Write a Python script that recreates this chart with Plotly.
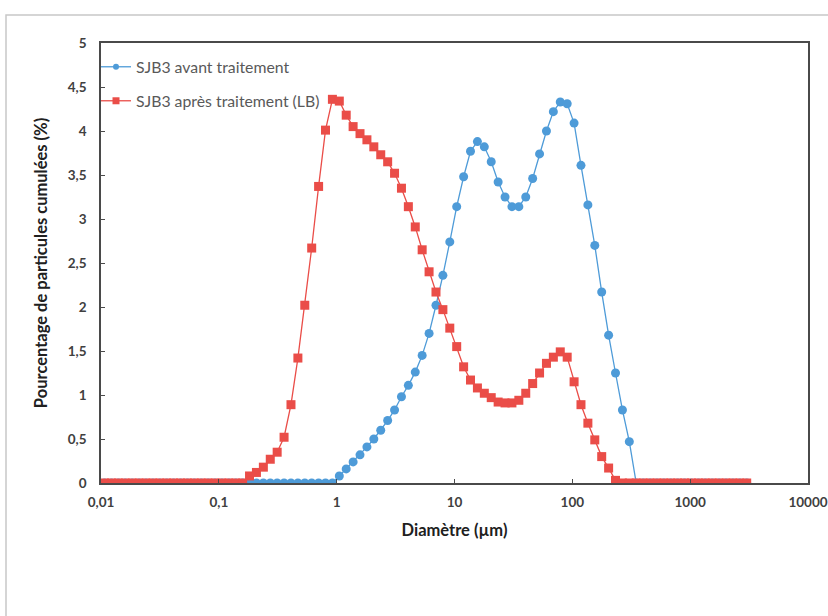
import plotly.graph_objects as go

# Particle diameter classes (µm)
diametres = [
    0.01072, 0.01226, 0.01404, 0.01606, 0.01839, 0.02104, 0.02408, 0.02756, 0.03154, 0.03610,
    0.04130, 0.04727, 0.05410, 0.06191, 0.07086, 0.08110, 0.09281, 0.1062, 0.1216, 0.1391,
    0.1592, 0.1822, 0.2085, 0.2387, 0.2732, 0.3126, 0.3578, 0.4095, 0.4687, 0.5364,
    0.6138, 0.7025, 0.8040, 0.9201, 1.053, 1.205, 1.379, 1.578, 1.806, 2.067,
    2.366, 2.708, 3.099, 3.547, 4.059, 4.645, 5.316, 6.085, 6.964, 7.970,
    9.120, 10.44, 11.95, 13.67, 15.65, 17.91, 20.50, 23.46, 26.85, 30.72,
    35.16, 40.24, 46.06, 52.71, 60.32, 69.02, 79.00, 90.42, 103.5, 118.4,
    135.5, 155.1, 177.5, 203.2, 232.5, 266.1, 304.5, 348.5, 398.9, 456.5,
    522.4, 597.9, 684.3, 783.2, 896.3, 1026, 1174, 1344, 1538, 1760,
    2014, 2305, 2638, 3019,
]

# SJB3 before treatment (%)
avant = [
    0, 0, 0, 0, 0, 0, 0, 0, 0, 0,
    0, 0, 0, 0, 0, 0, 0, 0, 0, 0,
    0, 0, 0, 0, 0, 0, 0, 0, 0, 0,
    0, 0, 0, 0, 0.08, 0.16, 0.24, 0.32, 0.41, 0.50,
    0.60, 0.71, 0.83, 0.98, 1.11, 1.26, 1.45, 1.70, 2.02, 2.36,
    2.74, 3.14, 3.48, 3.77, 3.88, 3.82, 3.65, 3.42, 3.25, 3.14,
    3.14, 3.25, 3.46, 3.74, 4.00, 4.22, 4.33, 4.31, 4.09, 3.61,
    3.16, 2.70, 2.17, 1.68, 1.25, 0.83, 0.47, 0, 0, 0,
    0, 0, 0, 0, 0, 0, 0, 0, 0, 0,
    0, 0, 0, 0,
]

# SJB3 after treatment (LB) (%)
apres = [
    0, 0, 0, 0, 0, 0, 0, 0, 0, 0,
    0, 0, 0, 0, 0, 0, 0, 0, 0, 0,
    0, 0.08, 0.12, 0.18, 0.27, 0.35, 0.52, 0.89, 1.42, 2.02,
    2.67, 3.37, 4.01, 4.36, 4.34, 4.18, 4.05, 3.97, 3.90, 3.82,
    3.73, 3.65, 3.52, 3.35, 3.14, 2.91, 2.65, 2.40, 2.17, 1.97,
    1.76, 1.55, 1.32, 1.17, 1.08, 1.02, 0.97, 0.92, 0.91, 0.91,
    0.94, 1.02, 1.13, 1.25, 1.36, 1.43, 1.49, 1.43, 1.15, 0.89,
    0.68, 0.49, 0.30, 0.17, 0.03, 0, 0, 0, 0, 0,
    0, 0, 0, 0, 0, 0, 0, 0, 0, 0,
    0, 0, 0, 0,
]

series_names = ["SJB3 avant traitement", "SJB3 après traitement (LB)"]

x_tickvals = [0.01, 0.1, 1, 10, 100, 1000, 10000]
x_ticktext = ["0,01", "0,1", "1", "10", "100", "1000", "10000"]
y_tickvals = [0, 0.5, 1, 1.5, 2, 2.5, 3, 3.5, 4, 4.5, 5]
y_ticktext = ["0", "0,5", "1", "1,5", "2", "2,5", "3", "3,5", "4", "4,5", "5"]

BLUE = "#4E9BD8"
RED = "#EA4D48"
AXIS = "#4A4A4A"
FONT = "Lato, 'Open Sans', sans-serif"

fig = go.Figure()

# Data series (markers over a thin connecting line)
fig.add_trace(go.Scatter(
    x=diametres, y=avant, mode="lines+markers", name=series_names[0],
    line=dict(color=BLUE, width=1.3),
    marker=dict(symbol="circle", size=9, color=BLUE),
    showlegend=False,
))
fig.add_trace(go.Scatter(
    x=diametres, y=apres, mode="lines+markers", name=series_names[1],
    line=dict(color=RED, width=1.3),
    marker=dict(symbol="square", size=9, color=RED),
    showlegend=False,
))

# Legend keys with smaller symbols
fig.add_trace(go.Scatter(
    x=[None], y=[None], mode="lines+markers", name=series_names[0],
    line=dict(color=BLUE, width=1.3),
    marker=dict(symbol="circle", size=6, color=BLUE),
    legend="legend",
))
fig.add_trace(go.Scatter(
    x=[None], y=[None], mode="lines+markers", name=series_names[1],
    line=dict(color=RED, width=1.3),
    marker=dict(symbol="square", size=7, color=RED),
    legend="legend2",
))

W, H = 828, 616
ML, MR, MT, MB = 101, 20, 43, 133
pw = W - ML - MR
ph = H - MT - MB


def px_to_paper_x(px):
    return (px - ML) / pw


def px_to_paper_y(py):
    return (H - MB - py) / ph


legend_common = dict(
    xanchor="left", yanchor="middle",
    bgcolor="rgba(0,0,0,0)", borderwidth=0,
    font=dict(family=FONT, size=15.8, color="#595959"),
    itemsizing="trace", itemwidth=30,
)

tick_font = dict(family=FONT, size=13.5, color="#404040", weight="bold")
title_font = dict(family=FONT, size=16.5, color="#202020")

fig.update_layout(
    width=W, height=H,
    margin=dict(l=ML, r=MR, t=MT, b=MB, autoexpand=False),
    paper_bgcolor="white", plot_bgcolor="white",
    font=dict(family=FONT, color="#404040"),
    showlegend=True,
    legend=dict(x=px_to_paper_x(96), y=px_to_paper_y(67), **legend_common),
    legend2=dict(x=px_to_paper_x(96), y=px_to_paper_y(101), **legend_common),
    xaxis=dict(
        type="log", range=[-2, 4], automargin=False,
        tickvals=x_tickvals, ticktext=x_ticktext, tickfont=tick_font,
        ticks="inside", ticklen=4, tickcolor=AXIS, tickwidth=1,
        ticklabelstandoff=6,
        showline=True, linecolor=AXIS, linewidth=1.5, mirror=True,
        showgrid=False, zeroline=False,
        title=dict(text="<b>Diamètre (µm)</b>", font=title_font, standoff=15),
    ),
    yaxis=dict(
        range=[0, 5], automargin=False,
        tickvals=y_tickvals, ticktext=y_ticktext, tickfont=tick_font,
        ticks="inside", ticklen=4, tickcolor=AXIS, tickwidth=1,
        ticklabelstandoff=10,
        showline=True, linecolor=AXIS, linewidth=1.5, mirror=True,
        showgrid=False, zeroline=False,
        title=dict(text="<b>Pourcentage de particules cumulées (%)</b>", font=title_font, standoff=16),
    ),
    shapes=[
        # Outer chart frame
        dict(type="rect", xref="paper", yref="paper", layer="below",
             x0=px_to_paper_x(6), y0=px_to_paper_y(640),
             x1=px_to_paper_x(850), y1=px_to_paper_y(15),
             line=dict(color="#C8C8C8", width=1.5), fillcolor="rgba(0,0,0,0)"),
    ],
)

fig.write_html("out.html")
